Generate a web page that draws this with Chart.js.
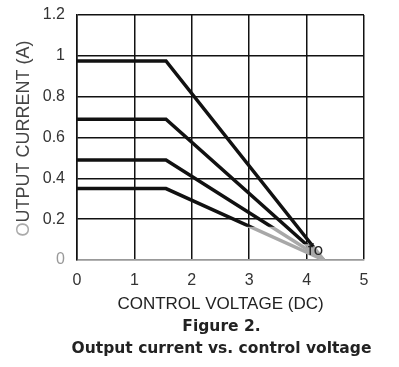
<!DOCTYPE html>
<html lang="en">
<head>
  <meta charset="UTF-8">
  <title>Output current vs. control voltage</title>
  <script src="https://cdn.jsdelivr.net/npm/chart.js"></script>
  <style>
    body { margin: 0; background: #fff; }
    .chart-box { width: 399px; height: 367px; }
  </style>
</head>
<body>

<div class="chart-box">
  <canvas id="currentChart" width="399" height="367"></canvas>
</div>

<script>
  // values
  const voltage = [0, 1.55, 4.3];
  const current100 = [0.975, 0.975, 0];
  const current70 = [0.69, 0.69, 0];
  const current50 = [0.49, 0.49, 0];
  const current35 = [0.35, 0.35, 0];
  const series = [current100, current70, current50, current35];
  // below this current the line is drawn grey
  const greyBelow = [0.07, 0.08, 0.165, 0.165];

  const xTicks = [0, 1, 2, 3, 4, 5];
  const yTicks = [0, 0.2, 0.4, 0.6, 0.8, 1, 1.2];

  const caption = ['Figure 2.', 'Output current vs. control voltage'];

  // black line that turns grey near the bottom
  function lineColor(ctx) {
    const chart = ctx.chart;
    if (!chart.chartArea) return '#111';
    const y0 = chart.scales.y.getPixelForValue(greyBelow[ctx.datasetIndex]);
    const g = chart.ctx.createLinearGradient(0, y0, 0, y0 + 1);
    g.addColorStop(0, '#111');
    g.addColorStop(1, '#a8a8a8');
    return g;
  }

  const datasets = series.map(vals => ({
    data: vals.map((v, i) => ({ x: voltage[i], y: v })),
    borderColor: lineColor,
    borderWidth: 3.5,
    pointRadius: 0,
    fill: false,
    tension: 0
  }));

  // y axis title with the grey first letter, the "fo" mark and the caption
  const extras = {
    id: 'extras',
    afterDraw(chart) {
      const c = chart.ctx;
      const area = chart.chartArea;
      c.save();
      c.font = '18px "Liberation Sans", Arial, sans-serif';
      c.textBaseline = 'middle';
      const first = 'O';
      const rest = 'UTPUT CURRENT (A)';
      const w1 = c.measureText(first).width;
      const w2 = c.measureText(rest).width;
      c.translate(24, (area.top + area.bottom) / 2 + 1);
      c.rotate(-Math.PI / 2);
      const start = -(w1 + w2) / 2;
      c.textAlign = 'left';
      c.fillStyle = '#aaa';
      c.fillText(first, start, 0);
      c.fillStyle = '#444';
      c.fillText(rest, start + w1, 0);
      c.restore();

      c.save();
      c.font = '16px "DejaVu Sans", Verdana, sans-serif';
      c.fillStyle = '#222';
      c.textBaseline = 'middle';
      c.fillText('fo', chart.scales.x.getPixelForValue(4.02), chart.scales.y.getPixelForValue(0.045));
      c.restore();

      c.save();
      c.font = 'bold 15.5px "DejaVu Sans", Verdana, sans-serif';
      c.fillStyle = '#222';
      c.textAlign = 'center';
      c.textBaseline = 'middle';
      const cx = (area.left + area.right) / 2 + 1;
      c.fillText(caption[0], cx, 327);
      c.fillText(caption[1], cx, 349);
      c.restore();
    }
  };

  new Chart(document.getElementById('currentChart').getContext('2d'), {
    type: 'line',
    data: { datasets: datasets },
    plugins: [extras],
    options: {
      responsive: false,
      animation: false,
      layout: { padding: { top: 15, right: 35, left: 0, bottom: 52 } },
      plugins: {
        legend: { display: false },
        tooltip: { enabled: false }
      },
      scales: {
        x: {
          type: 'linear',
          min: 0,
          max: 5,
          afterBuildTicks: s => { s.ticks = xTicks.map(v => ({ value: v })); },
          afterFit: s => { s.height = 55; s.paddingLeft = 0; s.paddingRight = 0; },
          grid: { color: '#111', lineWidth: 1.5, drawTicks: false },
          border: { color: '#999', width: 1.5 },
          ticks: {
            color: '#333',
            padding: 11,
            font: { family: '"Liberation Sans", Arial, sans-serif', size: 16 }
          },
          title: {
            display: true,
            text: 'CONTROL VOLTAGE (DC)',
            color: '#222',
            padding: { top: 1, bottom: 0 },
            font: { family: '"Liberation Sans", Arial, sans-serif', size: 17 }
          }
        },
        y: {
          min: 0,
          max: 1.2,
          afterBuildTicks: s => { s.ticks = yTicks.map(v => ({ value: v })); },
          afterFit: s => { s.width = 77; s.paddingTop = 0; s.paddingBottom = 0; },
          grid: {
            color: ctx => ctx.tick && ctx.tick.value === 0 ? '#999' : '#111',
            lineWidth: 1.5,
            drawTicks: false
          },
          border: { color: '#111', width: 1.5 },
          ticks: {
            color: ctx => ctx.tick.value === 0 ? '#999' : '#333',
            padding: 12,
            callback: v => String(+v.toFixed(1)),
            font: { family: '"Liberation Sans", Arial, sans-serif', size: 16 }
          }
        }
      }
    }
  });
</script>

</body>
</html>
